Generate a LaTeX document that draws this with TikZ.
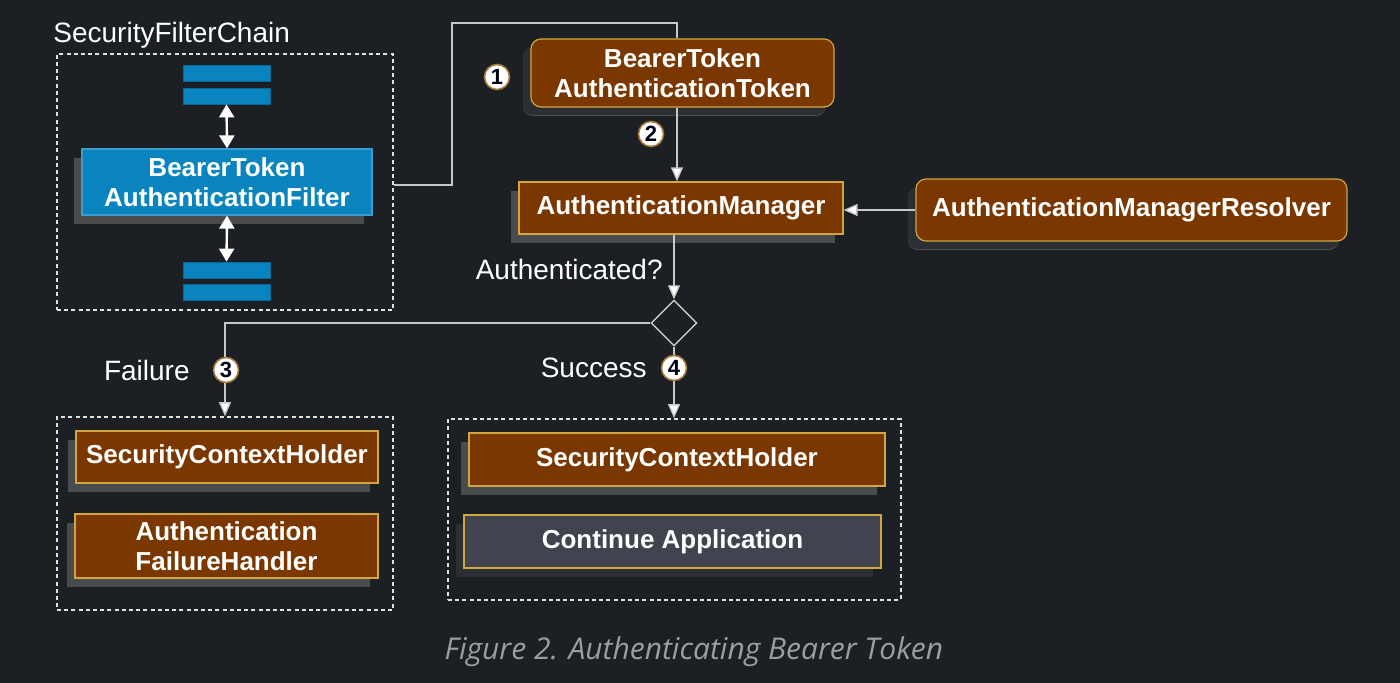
\documentclass[tikz,border=0pt]{standalone}
\usepackage{fontspec}
\setmainfont{Liberation Sans}
\newfontfamily\capfont{Open Sans}
\usetikzlibrary{shapes.geometric,arrows.meta,shadows}
\definecolor{bgdark}{HTML}{1C1F24}
\definecolor{brownbox}{HTML}{7A3800}
\definecolor{goldedge}{HTML}{D2A63E}
\definecolor{filterblue}{HTML}{0A84BF}
\definecolor{bluedge}{HTML}{066A99}
\definecolor{shadowgray}{HTML}{4A4B4D}
\definecolor{shadowdark}{HTML}{2B2F33}
\definecolor{slatebox}{HTML}{40444F}
\definecolor{linegray}{HTML}{C8C8C8}
\definecolor{capgray}{HTML}{9C9DA1}
\definecolor{badgeedge}{HTML}{A8773A}

\begin{document}
\begin{tikzpicture}[x=0.5pt,y=-0.5pt,
  box/.style={draw=goldedge,fill=brownbox,text=white,line width=0.6pt,inner sep=0pt,align=center,
    font=\fontsize{13}{15}\selectfont\bfseries,
    general shadow={draw=none,fill=shadowgray,shadow xshift=-4pt,shadow yshift=-4.5pt}},
  roundbox/.style={box,rounded corners=5pt,
    general shadow={draw=none,fill=shadowdark,shadow xshift=-4pt,shadow yshift=-4pt}},
  bar/.style={draw=bluedge,fill=filterblue,line width=0.4pt,minimum width=43.5pt,minimum height=8pt,inner sep=0pt},
  group/.style={draw=white!88!black,line width=0.8pt,dash pattern=on 2pt off 1.6pt,inner sep=0pt},
  link/.style={draw=linegray,line width=0.7pt},
  arrow/.style={link,-{Triangle[width=6pt,length=7pt,fill=white]}},
  both/.style={draw=white,line width=1.2pt,{Triangle[width=7.5pt,length=6.5pt,fill=white]}-{Triangle[width=7.5pt,length=6.5pt,fill=white]}},
  label/.style={text=white,font=\fontsize{14}{16}\selectfont,inner sep=0pt},
  badge/.style={circle,draw=badgeedge,fill=white,line width=0.8pt,minimum size=12.5pt,inner sep=0pt,
    text=black!90!blue,font=\fontsize{11}{12}\selectfont\bfseries}]

\fill[bgdark] (0,0) rectangle (1400,683);
\useasboundingbox (0,0) rectangle (1400,683);

\node[group,minimum width=168pt,minimum height=128pt] (chain) at (225,182) {};
\node[label,anchor=west] (chainname) at (53,35) {SecurityFilterChain};
\node[bar] (b1) at (226.5,73) {};
\node[bar] (b2) at (226.5,96) {};
\node[bar] (b3) at (226.5,270) {};
\node[bar] (b4) at (226.5,292) {};
\node[box,draw=filterblue!80!white,fill=filterblue,minimum width=145pt,minimum height=33pt] (filter) at (227,182) {BearerToken\\AuthenticationFilter};
\draw[both] (b2.south) -- (filter.north);
\draw[both] (filter.south) -- (b3.north);

\node[roundbox,minimum width=151.5pt,minimum height=34pt] (token) at (682.5,73) {BearerToken\\AuthenticationToken};
\node[box,minimum width=162pt,minimum height=26pt] (manager) at (681,208) {AuthenticationManager};
\node[roundbox,minimum width=215.5pt,minimum height=31pt] (resolver) at (1131.5,210) {AuthenticationManagerResolver};
\node[diamond,draw=linegray,line width=0.7pt,minimum width=23pt,minimum height=23pt,inner sep=0pt] (decision) at (674,323) {};

\coordinate (bend) at (452,23);
\coordinate (axis) at (677,0);
\draw[link] (chain.east |- 0,185) -| (bend) -| (token.north -| axis);
\draw[arrow] (token.south -| axis) -- (manager.north -| axis);
\draw[arrow] (resolver.west) -- (manager.east |- resolver.west);
\draw[arrow] (manager.south -| decision) -- (decision.north);
\node[label,anchor=east] (authq) at (663,269) {Authenticated?};

\node[group,minimum width=168pt,minimum height=96.5pt] (failure) at (225,513.5) {};
\node[box,minimum width=151pt,minimum height=26pt] (fholder) at (227,457) {SecurityContextHolder};
\node[box,minimum width=151.5pt,minimum height=32pt] (fhandler) at (226.5,546) {Authentication\\FailureHandler};

\node[group,minimum width=226.5pt,minimum height=90.5pt] (success) at (674.5,509.5) {};
\node[box,minimum width=208pt,minimum height=26.5pt] (sholder) at (677,459.5) {SecurityContextHolder};
\node[box,fill=slatebox,minimum width=208.5pt,minimum height=26.5pt,
  general shadow={draw=none,fill=shadowdark,shadow xshift=-4pt,shadow yshift=-4.5pt}] (cont) at (672.5,541.5) {Continue Application};

\draw[arrow] (decision.west) -| (failure.north);
\draw[arrow] (decision.south) -- (success.north -| decision);
\node[label,anchor=east] (fail) at (190,370) {Failure};
\node[label,anchor=east] (succ) at (647,368) {Success};

\node[badge] (n1) at (497,77) {1};
\node[badge] (n2) at (651,134) {2};
\node[badge] (n3) at (226,370) {3};
\node[badge] (n4) at (674,368) {4};

\node[text=capgray,font=\capfont\itshape\fontsize{15}{17}\selectfont] (caption) at (694,652) {Figure 2. Authenticating Bearer Token};
\end{tikzpicture}
\end{document}
